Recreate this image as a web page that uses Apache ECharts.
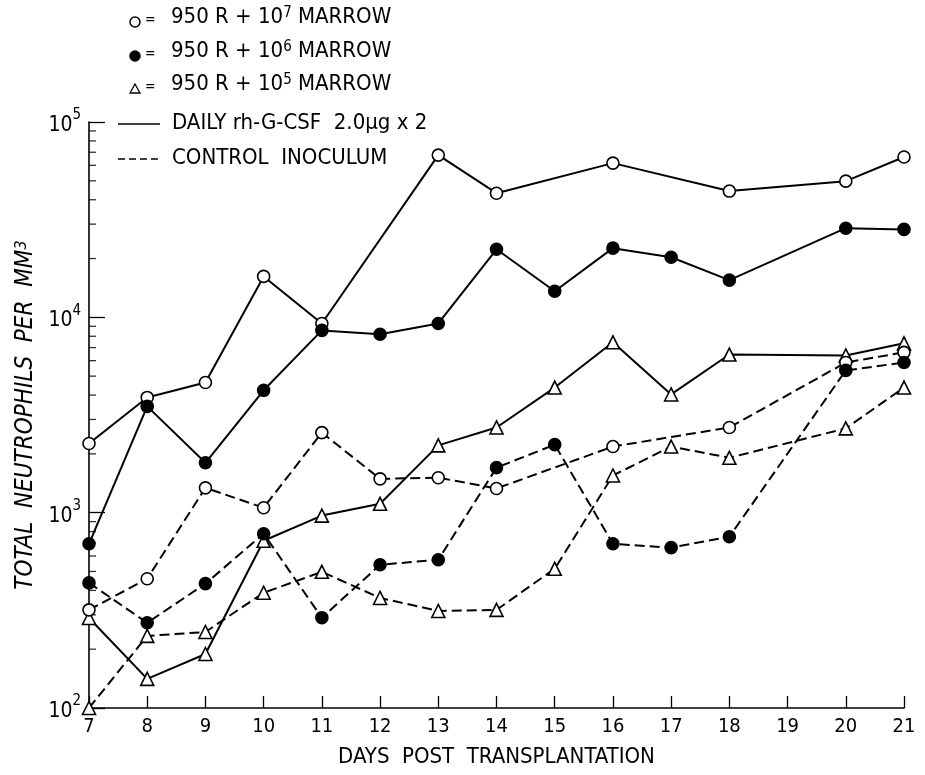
<!DOCTYPE html>
<html>
<head>
<meta charset="utf-8">
<script src="https://cdn.jsdelivr.net/npm/echarts@6/dist/echarts.min.js"></script>
<style>
html,body{margin:0;padding:0;background:#fff;}
#chart{width:925px;height:775px;}
</style>
</head>
<body>
<div id="chart"></div>
<script>
// ---- data ----
var days = [7, 8, 9, 10, 11, 12, 13, 14, 15, 16, 17, 18, 19, 20, 21];
var csf7  = [2260, 3890, 4640, 16200, 9300, null, 67700, 43200, null, 61600, null, 44300, null, 49800, 66200];
var csf6  = [693, 3500, 1800, 4230, 8570, 8190, 9300, 22300, 13600, 22600, 20300, 15500, null, 28600, 28200];
var csf5  = [289, 141, 189, 718, 966, 1110, 2210, 2730, 4370, 7450, 4030, 6450, null, 6380, 7360];
var ctl7  = [318, 459, 1340, 1060, 2570, 1490, 1510, 1330, null, 2180, null, 2730, null, 5870, 6620];
var ctl6  = [437, 273, 433, 780, 290, 541, 574, 1700, 2230, 693, 662, 753, null, 5350, 5870];
var ctl5  = [100, 234, 245, 389, 498, 366, 314, 318, 516, 1550, 2180, 1910, null, 2700, 4370];
var minorTickValues = [200,300,400,500,600,700,800,900,2000,3000,4000,5000,6000,7000,8000,9000,20000,30000,40000,50000,60000,70000,80000,90000];
var legendMarkerTexts = ['950 R + 10{s|7} MARROW', '950 R + 10{s|6} MARROW', '950 R + 10{s|5} MARROW'];
var legendLineTexts = ['DAILY rh-G-CSF  2.0\u03bcg x 2', 'CONTROL  INOCULUM'];
var xTitle = 'DAYS  POST  TRANSPLANTATION';
var yTitle = 'TOTAL  NEUTROPHILS  PER  MM{s|3}';

var FONT = '"Liberation Sans Narrow","DejaVu Sans Condensed","Liberation Sans",sans-serif';

function pairs(vals){ return days.map(function(d,i){ return [d, vals[i]]; }); }

function mkSeries(name, vals, symbol, filled, dashed){
  return {
    name: name, type: 'line', data: pairs(vals), connectNulls: true,
    symbol: symbol, symbolSize: symbol === 'triangle' ? 13 : 12,
    showAllSymbol: true,
    lineStyle: {color: '#000', width: 2, type: dashed ? [10, 5] : 'solid'},
    itemStyle: {color: filled ? '#000' : '#fff', borderColor: '#000', borderWidth: 1.6},
    emphasis: {disabled: true}, animation: false, z: 3
  };
}

var chart = echarts.init(document.getElementById('chart'), null, {renderer: 'canvas'});

// legend graphics
var graphics = [];
var rowY = [22, 56, 89, 124, 159];
var symX = 135;
legendMarkerTexts.forEach(function(t, i){
  var y = rowY[i];
  if (i < 2) {
    graphics.push({type: 'circle', shape: {cx: symX, cy: y, r: 5}, style: {fill: i === 1 ? '#000' : '#fff', stroke: '#000', lineWidth: 1.5}});
  } else {
    graphics.push({type: 'polygon', shape: {points: [[symX, y - 5], [symX - 5, y + 4], [symX + 5, y + 4]]}, style: {fill: '#fff', stroke: '#000', lineWidth: 1.3}});
  }
  graphics.push({type: 'text', left: 145, top: y - 9, style: {text: '=', font: '14px ' + FONT, fill: '#000'}});
  graphics.push({type: 'text', left: 171, top: y - 16, style: {
    text: t, font: '22px ' + FONT, fill: '#000',
    rich: {s: {font: '15px ' + FONT, fill: '#000', verticalAlign: 'top', lineHeight: 14}}
  }});
});
legendLineTexts.forEach(function(t, i){
  var y = rowY[3 + i];
  graphics.push({type: 'line', shape: {x1: 118, y1: y, x2: 160, y2: y}, style: {stroke: '#000', lineWidth: 1.6, lineDash: i === 1 ? [7, 4] : null}});
  graphics.push({type: 'text', left: 172, top: y - 12, style: {text: t, font: '22px ' + FONT, fill: '#000'}});
});

var option = {
  backgroundColor: '#fff',
  animation: false,
  grid: {left: 89, right: 21, top: 122, bottom: 67, containLabel: false},
  xAxis: {
    type: 'value', min: 7, max: 21, interval: 1,
    name: xTitle, nameLocation: 'middle', nameGap: 38,
    nameTextStyle: {color: '#000', fontSize: 22, fontFamily: FONT},
    axisLine: {show: true, lineStyle: {color: '#000', width: 1.6}},
    axisTick: {show: true, inside: true, length: 12, lineStyle: {color: '#000', width: 1.3}},
    axisLabel: {color: '#000', fontSize: 20, fontFamily: FONT, margin: 9},
    splitLine: {show: false}
  },
  yAxis: {
    type: 'log', logBase: 10, min: 100, max: 100000,
    name: yTitle, nameLocation: 'middle', nameGap: 51, nameRotate: 90,
    nameTextStyle: {color: '#000', fontSize: 24, fontFamily: FONT, fontStyle: 'italic',
      rich: {s: {fontSize: 16, fontFamily: FONT, fontStyle: 'italic', color: '#000', verticalAlign: 'top', lineHeight: 14}}},
    axisLine: {show: true, lineStyle: {color: '#000', width: 1.6}},
    axisTick: {show: true, inside: true, length: 16, lineStyle: {color: '#000', width: 1.3}},
    axisLabel: {
      color: '#000', margin: 8,
      formatter: function(v){ return '{b|10}{s|' + Math.round(Math.log10(v)) + '}'; },
      rich: {
        b: {fontSize: 21, fontFamily: FONT, color: '#000', lineHeight: 28, verticalAlign: 'bottom'},
        s: {fontSize: 15, fontFamily: FONT, color: '#000', lineHeight: 14, verticalAlign: 'top'}
      }
    },
    splitLine: {show: false}
  },
  graphic: graphics,
  series: [
    mkSeries('csf7', csf7, 'circle', false, false),
    mkSeries('csf6', csf6, 'circle', true, false),
    mkSeries('csf5', csf5, 'triangle', false, false),
    mkSeries('ctl7', ctl7, 'circle', false, true),
    mkSeries('ctl6', ctl6, 'circle', true, true),
    mkSeries('ctl5', ctl5, 'triangle', false, true),
    {
      type: 'scatter', name: 'minorTicks', silent: true, animation: false, z: 1,
      data: minorTickValues.map(function(v){ return [7, v]; }),
      symbol: 'rect', symbolSize: [7, 1.3], symbolOffset: [3.5, 0],
      itemStyle: {color: '#000'}, emphasis: {disabled: true}
    }
  ]
};
chart.setOption(option);
</script>
</body>
</html>
